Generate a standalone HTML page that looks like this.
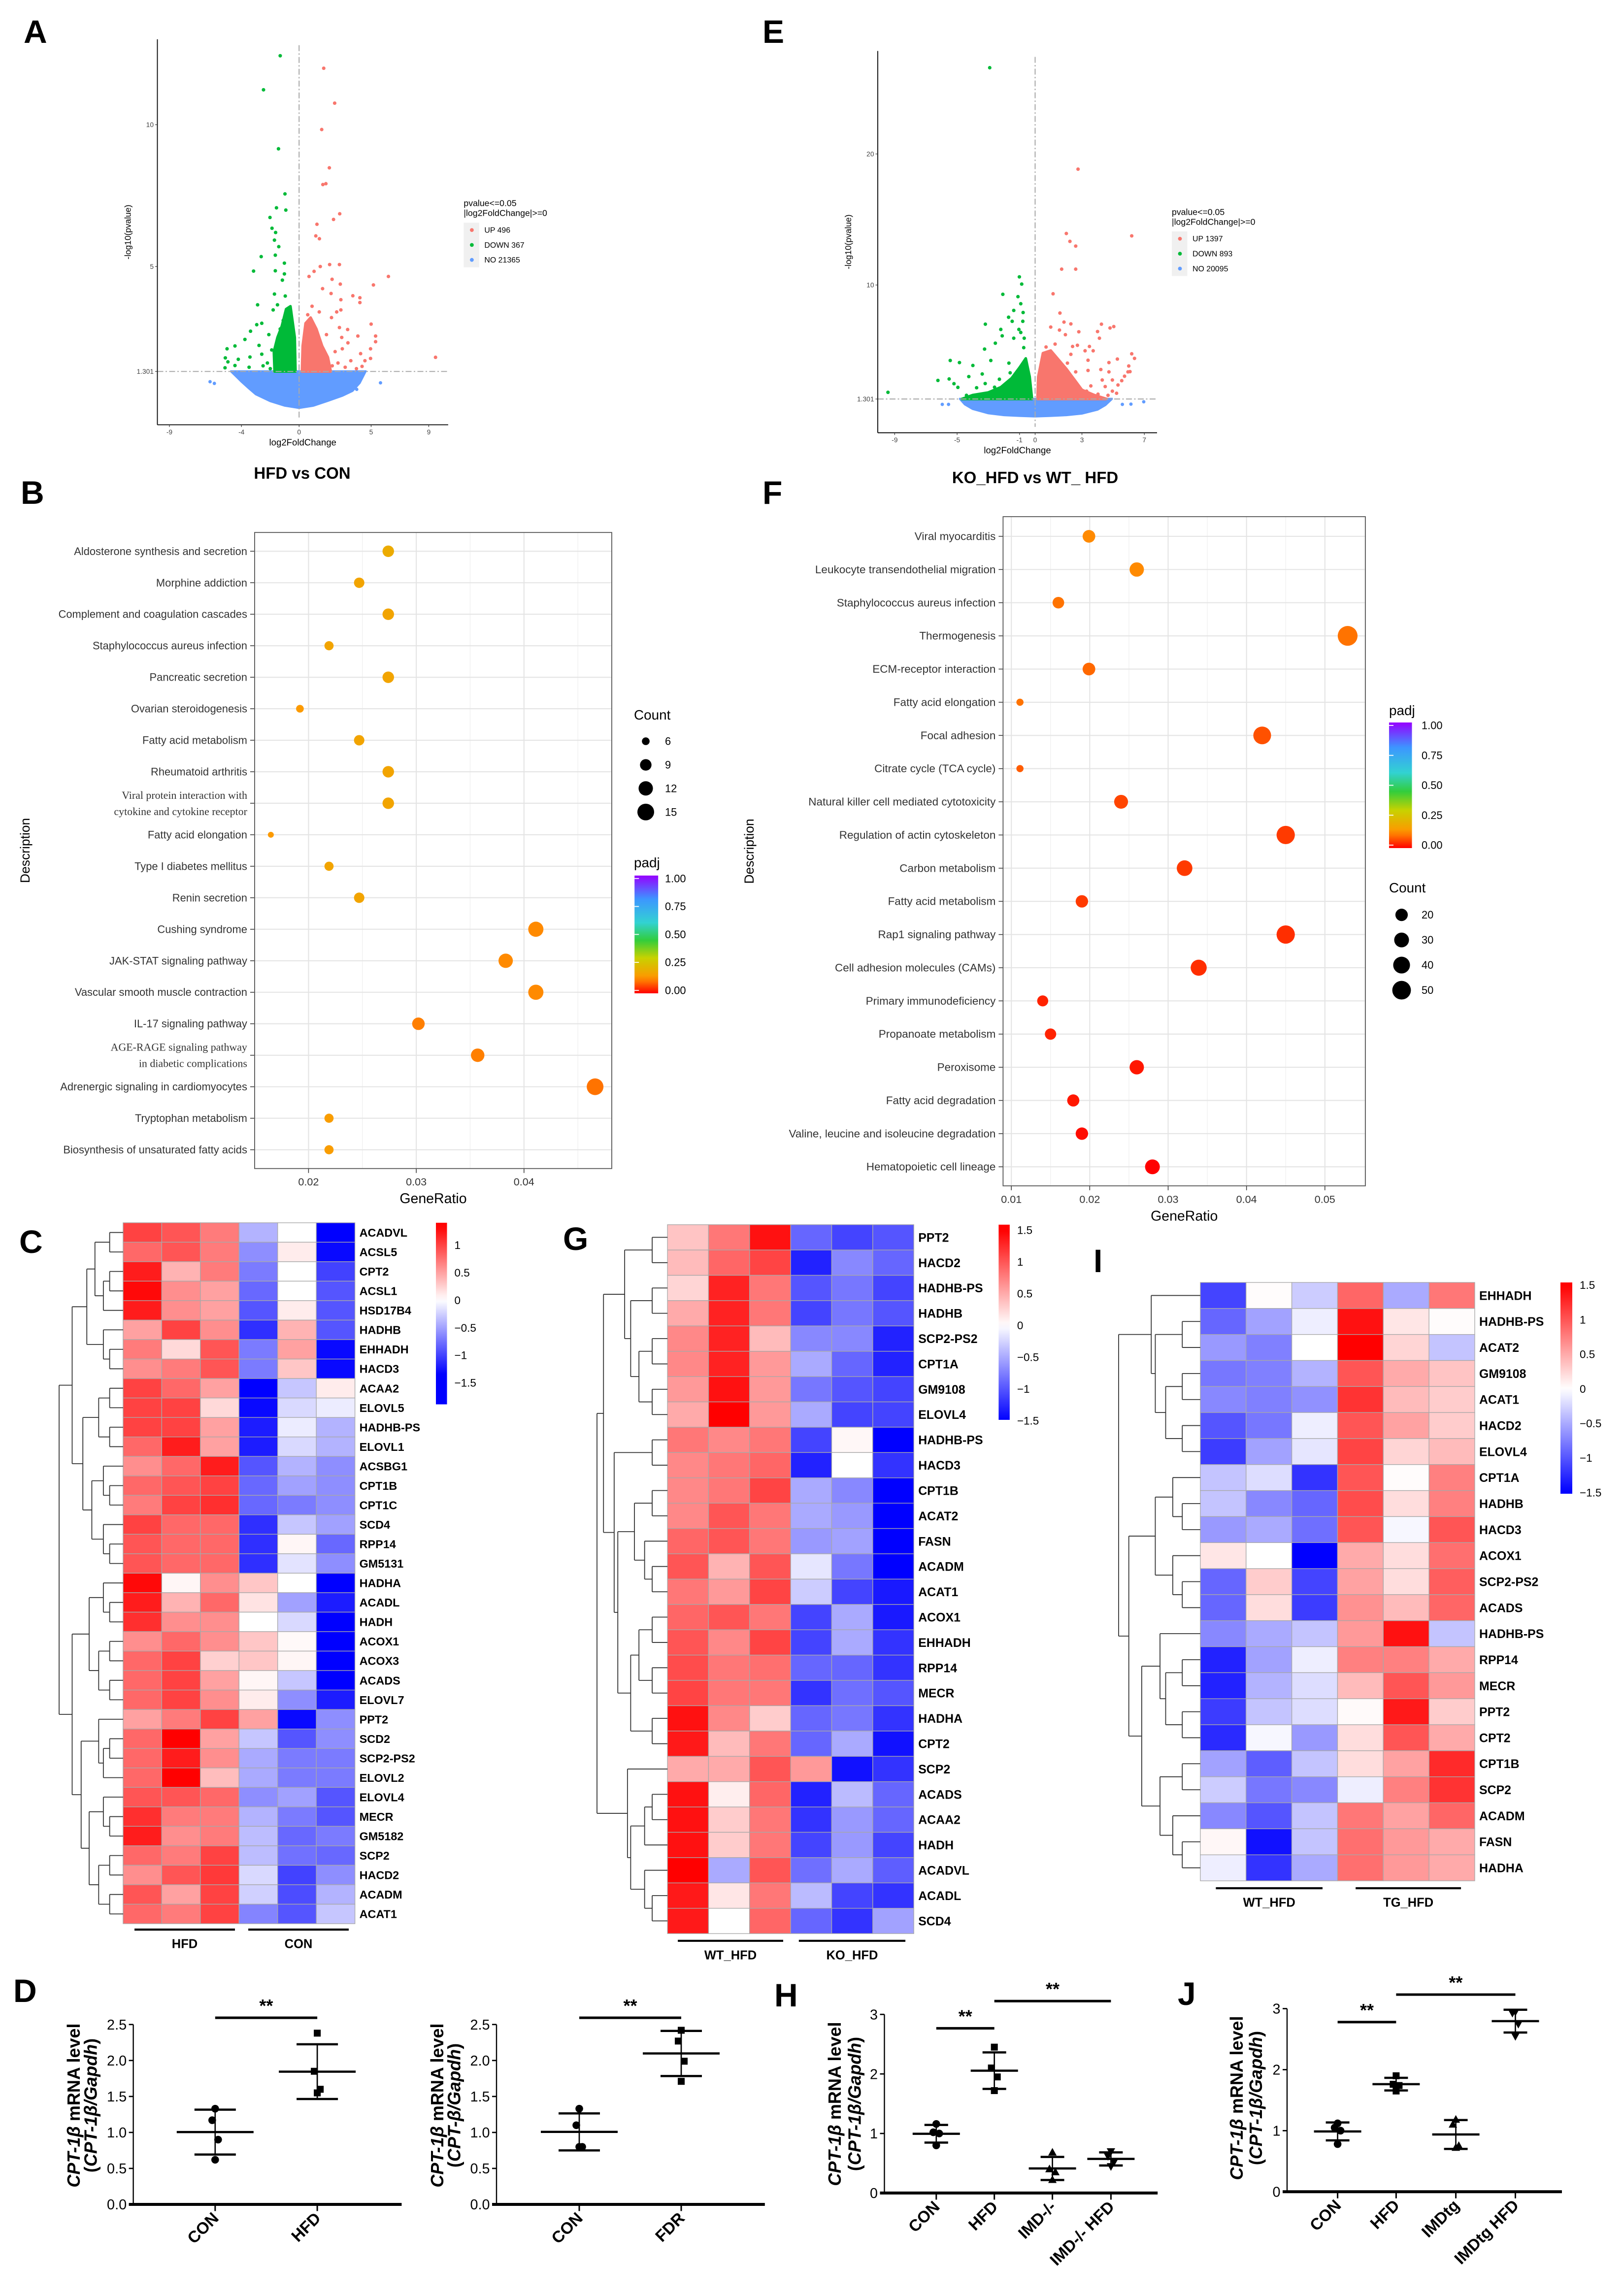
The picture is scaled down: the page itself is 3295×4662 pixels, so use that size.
<!DOCTYPE html>
<html><head><meta charset="utf-8">
<style>
html,body{margin:0;padding:0;background:#fff}
svg{display:block}
text{font-family:"Liberation Sans",sans-serif}
.serif{font-family:"Liberation Serif",serif}
.pl{font-size:22px;font-weight:bold}
</style></head>
<body>
<svg id="fig" xmlns="http://www.w3.org/2000/svg" width="3295" height="4662" viewBox="0 0 1098.33 1554">
<rect x="0" y="0" width="1098.33" height="1554" fill="#fff"/>
<text class="pl" x="16" y="29">A</text>
<text class="pl" x="516" y="29">E</text>
<text class="pl" x="14" y="341">B</text>
<text class="pl" x="516" y="341">F</text>
<text class="pl" x="13" y="848">C</text>
<text class="pl" x="381" y="846">G</text>
<text class="pl" x="740" y="861">I</text>
<text class="pl" x="9" y="1355">D</text>
<text class="pl" x="524" y="1358">H</text>
<text class="pl" x="797" y="1357">J</text>
<text x="204.5" y="324" text-anchor="middle" font-size="11" font-weight="bold">HFD vs CON</text>
<text x="700.5" y="327" text-anchor="middle" font-size="11" font-weight="bold">KO_HFD vs WT_ HFD</text>
</svg>
<script>
// ===================== DATA =====================
const volA_up=[[1.71,11.99],[2.47,10.76],[1.57,9.83],[2.1,8.48],[1.65,7.89],[1.86,7.92],[2.82,6.86],[2.39,6.66],[1.24,6.49],[1.16,6.08],[1.41,5.98],[6.2,4.65],[5.16,4.35],[2.12,5.07],[2.8,5.07],[1.47,5.0],[1.04,4.83],[0.69,4.65],[2.29,4.55],[2.86,4.38],[1.63,4.22],[2.22,4.05],[3.73,3.97],[4.22,3.9],[4.22,3.73],[2.9,3.83],[2.9,3.47],[2.61,3.4],[2.25,3.2],[5.0,2.97],[3.37,2.78],[2.8,2.85],[4.08,2.55],[5.31,2.55],[2.96,2.5],[3.39,2.31],[5.31,2.35],[4.96,2.1],[4.27,1.93],[4.57,1.68],[4.37,1.48],[4.96,1.76],[9.47,1.8],[3.59,1.68],[3.2,1.45],[3.98,1.4],[2.5,2.0],[2.7,1.6],[3.0,2.1],[2.3,1.5],[1.9,2.6],[1.4,3.4],[0.9,3.6],[0.6,3.3]];
const volA_down=[[-1.31,12.43],[-2.47,11.23],[-1.43,9.15],[-0.98,7.56],[-1.57,7.07],[-0.92,6.99],[-2.02,6.73],[-1.88,6.35],[-1.63,6.2],[-1.71,5.93],[-1.41,5.7],[-2.63,5.35],[-1.65,5.4],[-1.02,5.12],[-3.16,4.84],[-1.65,4.85],[-1.02,4.74],[-1.16,4.52],[-1.71,4.03],[-0.96,3.96],[-2.88,3.65],[-1.5,3.65],[-1.8,3.47],[-0.82,3.45],[-2.59,3.0],[-2.94,2.95],[-1.31,2.8],[-3.37,2.72],[-3.76,2.43],[-2.1,2.6],[-2.78,2.22],[-4.45,2.2],[-5.0,2.1],[-5.12,1.78],[-4.94,1.64],[-5.14,1.43],[-4.22,1.73],[-3.41,1.81],[-2.59,1.91],[-1.9,2.06],[-4.45,1.51],[-3.47,1.45],[-2.2,1.6],[-2.0,1.4],[-2.5,1.5],[-1.1,3.1],[-0.7,3.3]];
const volA_no=[[-6.18,0.94],[-5.88,0.88],[5.65,0.9],[4.0,0.67]];
const volA_blueEdge=[[-4.7,1.3],[-4.3,1.1],[-4,0.95],[-3.5,0.72],[-3,0.5],[-2,0.26],[-1,0.1],[0,0.02],[1,0.1],[2,0.27],[3,0.45],[3.7,0.62],[4.2,0.9],[4.6,1.3]];
const volA_downDense=[[-1.7,1.3],[-1.75,2.0],[-1.5,2.5],[-1.2,2.9],[-0.9,3.5],[-0.6,3.6],[-0.3,2.5],[-0.25,1.3]];
const volA_upDense=[[0.2,1.3],[0.25,2.2],[0.45,3.0],[0.8,3.2],[1.2,2.8],[1.6,2.2],[2.0,1.8],[2.2,1.3]];
const volE_up=[[2.75,18.84],[2.0,13.93],[6.19,13.75],[2.23,13.33],[2.6,12.97],[1.7,11.21],[2.6,11.21],[1.15,9.33],[1.59,7.86],[1.85,7.17],[2.29,7.03],[4.25,7.01],[4.8,6.72],[5.04,6.83],[1.0,6.79],[1.56,6.56],[2.8,6.43],[4.0,6.45],[1.94,6.21],[4.12,5.94],[0.7,5.27],[1.28,5.49],[2.4,5.31],[2.71,5.4],[3.48,5.31],[3.2,4.98],[3.72,4.98],[2.29,4.71],[6.19,4.75],[6.37,4.4],[3.39,4.26],[5.27,4.35],[4.73,4.08],[2.07,4.04],[6.0,3.82],[6.08,3.39],[5.95,3.37],[2.6,3.37],[3.39,3.48],[4.21,3.55],[4.73,3.37],[5.73,3.04],[4.3,2.75],[4.95,2.75],[5.55,2.7],[3.57,2.3],[4.49,2.25],[5.31,2.37],[3.02,1.96],[4.95,1.9],[5.22,1.74],[4.03,1.67],[4.67,1.58],[3.5,1.5],[3.3,1.9]];
const volE_down=[[-2.91,26.58],[-1.01,10.62],[-0.86,10.07],[-2.07,9.29],[-1.1,9.11],[-0.92,8.57],[-1.37,8.06],[-0.77,7.9],[-1.7,7.54],[-1.47,7.23],[-0.79,7.23],[-3.19,7.01],[-2.2,6.61],[-1.04,6.61],[-0.92,6.38],[-2.11,6.12],[-1.37,5.94],[-0.7,5.94],[-2.55,5.56],[-3.24,5.11],[-0.73,5.22],[-5.44,4.24],[-4.85,4.08],[-2.84,4.24],[-3.99,3.86],[-1.68,4.04],[-6.23,2.72],[-5.51,2.83],[-4.25,3.01],[-3.39,3.21],[-5.2,2.47],[-4.95,2.19],[-3.75,2.16],[-9.43,1.81],[-3.2,2.48],[-2.29,2.81],[-4.4,1.58],[-3.39,1.58],[-2.6,2.2],[-1.6,3.3]];
const volE_no=[[-5.95,0.89],[-5.55,0.89],[5.59,0.89],[6.14,0.91],[6.96,1.09],[4.67,1.14]];
const volE_blueEdge=[[-4.8,1.3],[-4.5,0.9],[-4,0.55],[-3,0.22],[-2,0.08],[-1,0.02],[0,-0.02],[1,0.02],[2,0.08],[3,0.2],[4,0.5],[4.5,0.85],[4.9,1.3]];
const volE_downDense=[[-4.7,1.3],[-4.0,1.6],[-3.0,1.8],[-2.2,2.2],[-2.0,2.4],[-1.5,2.9],[-1.0,3.7],[-0.6,4.4],[-0.35,3.0],[-0.2,1.3]];
const volE_upDense=[[0.15,1.3],[0.2,3.0],[0.5,4.8],[1.0,5.0],[1.5,4.3],[2.0,3.6],[2.5,2.8],[3.0,2.0],[3.8,1.6],[4.6,1.3]];

const dotB_terms=["Aldosterone synthesis and secretion","Morphine addiction","Complement and coagulation cascades","Staphylococcus aureus infection","Pancreatic secretion","Ovarian steroidogenesis","Fatty acid metabolism","Rheumatoid arthritis","Viral protein interaction with|cytokine and cytokine receptor","Fatty acid elongation","Type I diabetes mellitus","Renin secretion","Cushing syndrome","JAK-STAT signaling pathway","Vascular smooth muscle contraction","IL-17 signaling pathway","AGE-RAGE signaling pathway|in diabetic complications","Adrenergic signaling in cardiomyocytes","Tryptophan metabolism","Biosynthesis of unsaturated fatty acids"];
const dotB_ratio=[0.0274,0.0247,0.0274,0.0219,0.0274,0.0192,0.0247,0.0274,0.0274,0.0165,0.0219,0.0247,0.0411,0.0383,0.0411,0.0302,0.0357,0.0466,0.0219,0.0219];
const dotB_count=[9,8,9,7,9,6,8,9,9,5,7,8,13,12,13,10,11,15,7,7];
const dotB_padj=[0.19,0.17,0.17,0.17,0.17,0.14,0.17,0.17,0.17,0.14,0.17,0.17,0.12,0.12,0.12,0.11,0.11,0.1,0.15,0.15];
const dotB_ticks=[0.02,0.03,0.04];
const dotF_terms=["Viral myocarditis","Leukocyte transendothelial migration","Staphylococcus aureus infection","Thermogenesis","ECM-receptor interaction","Fatty acid elongation","Focal adhesion","Citrate cycle (TCA cycle)","Natural killer cell mediated cytotoxicity","Regulation of actin cytoskeleton","Carbon metabolism","Fatty acid metabolism","Rap1 signaling pathway","Cell adhesion molecules (CAMs)","Primary immunodeficiency","Propanoate metabolism","Peroxisome","Fatty acid degradation","Valine, leucine and isoleucine degradation","Hematopoietic cell lineage"];
const dotF_ratio=[0.0199,0.026,0.016,0.0529,0.0199,0.0111,0.042,0.0111,0.024,0.045,0.0321,0.019,0.045,0.0339,0.014,0.015,0.026,0.0179,0.019,0.028];
const dotF_count=[21,28,17,57,21,4,45,4,26,48,34,20,48,36,15,16,28,19,20,30];
const dotF_padj=[0.12,0.12,0.1,0.1,0.09,0.1,0.07,0.08,0.06,0.05,0.05,0.05,0.04,0.04,0.03,0.03,0.02,0.02,0.01,0.0];
const dotF_ticks=[0.01,0.02,0.03,0.04,0.05];

const heatC_genes=["ACADVL","ACSL5","CPT2","ACSL1","HSD17B4","HADHB","EHHADH","HACD3","ACAA2","ELOVL5","HADHB-PS","ELOVL1","ACSBG1","CPT1B","CPT1C","SCD4","RPP14","GM5131","HADHA","ACADL","HADH","ACOX1","ACOX3","ACADS","ELOVL7","PPT2","SCD2","SCP2-PS2","ELOVL2","ELOVL4","MECR","GM5182","SCP2","HACD2","ACADM","ACAT1"];
const heatC_values=[[1.0,0.9,0.7,-0.4,0.0,-1.4],[0.8,0.9,0.7,-0.6,0.1,-1.3],[1.2,0.4,0.7,-0.7,0.0,-1.0],[1.3,0.6,0.5,-0.8,0.0,-0.9],[1.2,0.6,0.5,-0.9,0.1,-0.9],[0.5,1.0,0.6,-1.1,0.4,-0.9],[0.7,0.2,0.9,-0.7,0.5,-1.3],[0.6,0.7,0.9,-0.7,0.3,-1.3],[1.0,0.8,0.5,-1.5,-0.3,0.1],[1.0,1.0,0.2,-1.3,-0.2,-0.1],[1.0,1.0,0.5,-1.2,-0.1,-0.4],[0.8,1.2,0.5,-1.2,-0.2,-0.4],[0.6,0.8,1.2,-0.9,-0.4,-0.6],[0.8,0.9,1.0,-0.8,-0.5,-0.6],[0.7,1.0,1.1,-0.8,-0.7,-0.6],[1.0,0.8,0.8,-1.1,-0.3,-0.5],[0.9,0.8,0.8,-1.1,0.05,-0.8],[0.9,0.8,0.8,-1.1,-0.15,-0.6],[1.3,0.05,0.6,0.3,0.0,-1.4],[1.2,0.4,0.8,0.15,-0.5,-1.2],[1.1,0.6,0.6,0.0,-0.2,-1.4],[0.6,0.8,0.6,0.3,0.03,-1.6],[0.8,1.0,0.25,0.3,0.05,-1.5],[0.8,1.0,0.5,0.05,-0.3,-1.4],[0.8,1.0,0.6,0.1,-0.6,-1.2],[0.5,0.7,1.0,0.5,-1.3,-0.6],[0.8,1.35,0.5,-0.3,-0.9,-0.6],[0.8,1.2,0.6,-0.45,-0.7,-0.7],[0.8,1.35,0.35,-0.45,-0.7,-0.7],[0.9,0.9,0.8,-0.6,-0.5,-0.9],[1.1,0.7,0.7,-0.4,-0.7,-0.9],[1.2,0.6,0.7,-0.35,-0.8,-0.7],[0.8,0.7,1.0,-0.35,-0.75,-0.8],[0.6,0.9,1.05,-0.2,-1.0,-0.6],[0.9,0.5,1.0,-0.25,-0.95,-0.4],[0.8,0.7,1.0,-0.65,-0.9,-0.3]];
const heatC_tree=[[[[[0,1],[[2,3],4]],[5,[6,7]]],[[[8,9],[10,11]],[[12,[13,14]],[15,[16,17]]]]],[[[18,[19,20]],[[21,22],[23,24]]],[[25,[[26,27],28]],[[29,[30,31]],[[32,33],[34,35]]]]]];
const heatC_ticks=[1,0.5,0,-0.5,-1,-1.5];
const heatC_tickLabels=["1","0.5","0","\u22120.5","\u22121","\u22121.5"];
const heatG_genes=["PPT2","HACD2","HADHB-PS","HADHB","SCP2-PS2","CPT1A","GM9108","ELOVL4","HADHB-PS","HACD3","CPT1B","ACAT2","FASN","ACADM","ACAT1","ACOX1","EHHADH","RPP14","MECR","HADHA","CPT2","SCP2","ACADS","ACAA2","HADH","ACADVL","ACADL","SCD4"];
const heatG_values=[[0.35,0.8,1.4,-0.9,-1.1,-1.0],[0.4,0.9,1.1,-1.3,-0.7,-0.9],[0.25,1.3,0.8,-1.0,-0.8,-1.1],[0.5,1.3,0.8,-1.1,-0.8,-1.0],[0.7,1.3,0.4,-0.7,-0.7,-1.3],[0.7,1.3,0.6,-0.5,-0.9,-1.3],[0.6,1.4,0.6,-0.8,-1.0,-1.1],[0.5,1.5,0.6,-0.5,-1.1,-1.1],[0.8,0.7,0.8,-1.1,0.05,-1.5],[0.7,0.8,0.9,-1.3,0.0,-1.2],[0.7,0.8,1.1,-0.5,-0.7,-1.5],[0.7,1.0,0.8,-0.5,-0.6,-1.6],[0.9,1.0,0.8,-0.6,-0.55,-1.55],[1.0,0.45,1.0,-0.15,-0.8,-1.6],[0.8,0.6,1.1,-0.3,-1.1,-1.35],[0.9,1.0,0.8,-1.1,-0.5,-1.35],[1.0,0.7,1.1,-1.1,-0.5,-1.2],[1.05,0.8,0.85,-0.9,-0.9,-1.2],[1.1,0.8,0.8,-1.2,-0.85,-1.0],[1.4,0.7,0.3,-0.9,-0.8,-1.2],[1.35,0.4,0.8,-0.9,-0.5,-1.4],[0.5,0.5,1.0,0.6,-1.4,-1.2],[1.4,0.1,0.9,-1.3,-0.4,-0.9],[1.4,0.3,0.8,-1.2,-0.6,-0.9],[1.4,0.3,0.8,-1.1,-0.6,-1.1],[1.5,-0.5,1.0,-0.85,-0.5,-0.95],[1.35,0.15,0.8,-0.4,-1.1,-1.2],[1.35,0.0,0.9,-0.9,-1.2,-0.55]];
const heatG_tree=[[[[0,1],[[2,3],[[4,5],[6,7]]]],[[8,9],[[[10,11],[12,[13,14]]],[[[15,16],[17,18]],[19,20]]]]],[21,[[[22,23],24],[25,[26,27]]]]];
const heatG_ticks=[1.5,1,0.5,0,-0.5,-1,-1.5];
const heatG_tickLabels=["1.5","1","0.5","0","\u22120.5","\u22121","\u22121.5"];
const heatI_genes=["EHHADH","HADHB-PS","ACAT2","GM9108","ACAT1","HACD2","ELOVL4","CPT1A","HADHB","HACD3","ACOX1","SCP2-PS2","ACADS","HADHB-PS","RPP14","MECR","PPT2","CPT2","CPT1B","SCP2","ACADM","FASN","HADHA"];
const heatI_values=[[-1.1,0.02,-0.3,0.9,-0.5,0.8],[-0.9,-0.55,-0.1,1.4,0.15,0.02],[-0.6,-0.75,0.0,1.5,0.25,-0.35],[-0.8,-0.75,-0.45,1.0,0.5,0.35],[-0.7,-0.75,-0.65,1.2,0.4,0.3],[-1.0,-0.8,-0.1,1.0,0.55,0.3],[-1.15,-0.55,-0.15,1.1,0.25,0.4],[-0.35,-0.2,-1.2,1.0,0.02,0.75],[-0.35,-0.7,-0.9,1.05,0.2,0.75],[-0.6,-0.5,-0.85,1.0,-0.05,1.0],[0.15,0.0,-1.6,0.5,0.2,0.85],[-0.9,0.3,-1.1,0.55,0.2,0.95],[-0.9,0.2,-1.15,0.65,0.4,0.9],[-0.7,-0.5,-0.35,0.6,1.4,-0.35],[-1.3,-0.55,-0.1,0.75,0.75,0.5],[-1.3,-0.45,-0.2,0.4,1.0,0.6],[-1.15,-0.35,-0.2,0.03,1.35,0.3],[-1.25,-0.05,-0.6,0.2,1.0,0.5],[-0.55,-0.95,-0.35,0.2,0.55,1.25],[-0.3,-0.8,-0.7,-0.1,0.75,1.2],[-0.7,-1.0,-0.35,0.8,0.55,0.9],[0.05,-1.4,-0.35,0.85,0.6,0.5],[-0.1,-1.2,-0.5,0.85,0.6,0.5]];
const heatI_tree=[[0,[[1,2],[[3,4],[5,6]]]],[[[7,[8,9]],[10,[11,12]]],[[13,[[14,15],[16,17]]],[[18,19],[20,[21,22]]]]]];

const d1_groups=["CON","HFD"];
const d1_con=[1.33,1.17,0.9,0.62];
const d1_hfd=[2.38,1.85,1.6,1.55];
const d2_groups=["CON","FDR"];
const d2_con=[1.33,1.1,0.8,0.8];
const d2_fdr=[2.42,2.27,1.99,1.71];
const h_groups=["CON","HFD","IMD-/-","IMD-/- HFD"];
const h_con=[1.16,1.02,1.0,0.8];
const h_hfd=[2.45,2.1,1.95,1.72];
const h_imd=[0.68,0.4,0.35,0.22];
const h_imdhfd=[0.7,0.62,0.52,0.45];
const j_groups=["CON","HFD","IMDtg","IMDtg HFD"];
const j_con=[1.12,1.05,1.0,0.78];
const j_hfd=[1.9,1.76,1.74,1.65];
const j_imd=[1.18,1.1,0.75,0.72];
const j_imdhfd=[2.95,2.93,2.75,2.55];
const d_ticks=[0,0.5,1.0,1.5,2.0,2.5];
const d_tickLabels=["0.0","0.5","1.0","1.5","2.0","2.5"];
const hj_ticks=[0,1,2,3];
const hj_tickLabels=["0","1","2","3"];

// ===================== HELPERS =====================
const NS='http://www.w3.org/2000/svg';
const svg=document.getElementById('fig');
function E(tag,a,p){const el=document.createElementNS(NS,tag);for(const k in a)el.setAttribute(k,a[k]);(p||svg).appendChild(el);return el;}
function T(x,y,s,a,p){const el=E('text',Object.assign({x:x,y:y},a||{}),p);el.textContent=s;return el;}
function G(name){const g=E('g',{});return g;}

// ===================== VOLCANO =====================
function volcano(c){
  const g=G(c.name);
  const sx=v=>c.x0+v*c.kx, sy=v=>c.y0-v*c.ky;
  let d='M'+sx(c.edge[0][0])+','+sy(1.301);
  c.edge.forEach(p=>{d+=' L'+sx(p[0])+','+sy(Math.min(p[1],1.301));});
  d+=' L'+sx(c.edge[c.edge.length-1][0])+','+sy(1.301)+' Z';
  let el=E('path',{d:d,fill:'#619CFF',stroke:'#619CFF','stroke-width':1.6},g);
  
  
  [[c.downDense,'#00BA38','down-dense-cluster'],[c.upDense,'#F8766D','up-dense-cluster']].forEach(q=>{
    const pts=q[0].map(p=>sx(p[0])+','+sy(p[1])).join(' ');
    const pe=E('polygon',{points:pts,fill:q[1],stroke:q[1],'stroke-width':1.8,'stroke-linejoin':'round'},g);
    
    
  });
  c.no.forEach(p=>{const e=E('circle',{cx:sx(p[0]),cy:sy(p[1]),r:1.15,fill:'#619CFF'},g);
    
    });
  c.down.forEach(p=>{const e=E('circle',{cx:sx(p[0]),cy:sy(p[1]),r:1.2,fill:'#00BA38'},g);
    
    });
  c.up.forEach(p=>{const e=E('circle',{cx:sx(p[0]),cy:sy(p[1]),r:1.2,fill:'#F8766D'},g);
    
    });
  el=E('line',{x1:c.L,x2:c.R,y1:sy(1.301),y2:sy(1.301),stroke:'#aaa','stroke-width':0.7,'stroke-dasharray':'4,1.5,1,1.5'},g);
  
  
  el=E('line',{x1:sx(0),x2:sx(0),y1:c.T+4,y2:c.B-4,stroke:'#aaa','stroke-width':0.7,'stroke-dasharray':'4,1.5,1,1.5'},g);
  
  
  el=E('line',{x1:c.L,x2:c.L,y1:c.T,y2:c.B,stroke:'#000','stroke-width':0.6},g);
  
  
  el=E('line',{x1:c.L,x2:c.R,y1:c.B,y2:c.B,stroke:'#000','stroke-width':0.6},g);
  
  
  c.xt.forEach(v=>{
    const tk=E('line',{x1:sx(v),x2:sx(v),y1:c.B,y2:c.B+1.5,stroke:'#333','stroke-width':0.4},g);
    
    
    const tl=T(sx(v),c.B+6.5,String(v),{'font-size':4.6,'text-anchor':'middle',fill:'#444'},g);
    
    
  });
  c.yt.forEach(v=>{
    const tk=E('line',{x1:c.L-1.5,x2:c.L,y1:sy(v),y2:sy(v),stroke:'#333','stroke-width':0.4},g);
    
    
    const tl=T(c.L-2.5,sy(v)+1.6,String(v),{'font-size':4.6,'text-anchor':'end',fill:'#444'},g);
    
    
  });
  el=T((c.L+c.R)/2,c.B+14,'log2FoldChange',{'font-size':6.2,'text-anchor':'middle'},g);
  
  
  el=T(0,0,'-log10(pvalue)',{'font-size':5.8,'text-anchor':'middle',transform:`translate(${c.L-18},${(c.T+c.B)/2}) rotate(-90)`},g);
  
  
  const lg=c.lg;
  el=T(lg.x,lg.y,'pvalue<=0.05',{'font-size':5.9},g);
  
  
  el=T(lg.x,lg.y+6.6,'|log2FoldChange|>=0',{'font-size':5.9},g);
  
  
  el=E('rect',{x:lg.x,y:lg.dy[0]-5,width:10.5,height:lg.dy[2]-lg.dy[0]+10,fill:'#f0f0f0'},g);
  
  
  lg.items.forEach((it,i)=>{
    const dot=E('circle',{cx:lg.x+5.5,cy:lg.dy[i],r:1.3,fill:it[1]},g);
    
    
    const tx=T(lg.x+14,lg.dy[i]+1.8,it[0],{'font-size':5.3},g);
    
    
  });
}
volcano({name:'volcano-a',x0:202.4,kx:9.75,y0:276.4,ky:19.2,L:106.5,R:303.3,T:26.6,B:287.5,
  up:volA_up,down:volA_down,no:volA_no,edge:volA_blueEdge,downDense:volA_downDense,upDense:volA_upDense,
  xt:[-9,-4,0,5,9],yt:[1.301,5,10],
  lg:{x:313.8,y:139.5,dy:[155.7,165.8,175.9],items:[['UP 496','#F8766D'],['DOWN 367','#00BA38'],['NO 21365','#619CFF']]}});
volcano({name:'volcano-e',x0:700.5,kx:10.56,y0:281.6,ky:8.87,L:594,R:783,T:34.5,B:292.9,
  up:volE_up,down:volE_down,no:volE_no,edge:volE_blueEdge,downDense:volE_downDense,upDense:volE_upDense,
  xt:[-9,-5,-1,0,3,7],yt:[1.301,10,20],
  lg:{x:793,y:145.5,dy:[161.6,171.7,181.8],items:[['UP 1397','#F8766D'],['DOWN 893','#00BA38'],['NO 20095','#619CFF']]}});

// ===================== DOT PLOTS =====================
const padjStops=[[0,[255,0,0]],[0.13,[255,150,0]],[0.3,[200,210,0]],[0.45,[50,205,60]],[0.6,[50,210,210]],[0.8,[60,150,255]],[1,[150,0,255]]];
function padjColor(v){
  for(let i=1;i<padjStops.length;i++){
    if(v<=padjStops[i][0]){const a=padjStops[i-1],b=padjStops[i],t=(v-a[0])/(b[0]-a[0]);
      const c=a[1].map((x,k)=>Math.round(x+(b[1][k]-x)*t));return `rgb(${c[0]},${c[1]},${c[2]})`;}
  }
  return 'rgb(150,0,255)';
}
function dotplot(c){
  const g=G(c.name);
  const sx=v=>c.tx0+(v-c.tv0)*c.k;
  const sy=i=>c.r0+i*c.rs;
  let el=E('rect',{x:c.L,y:c.T,width:c.R-c.L,height:c.B-c.T,fill:'#fff'},g);
  
  
  for(let i=0;i<c.ticks.length+1;i++){
    const v=c.ticks[0]+(i-0.5)*(c.ticks[1]-c.ticks[0]);
    const x=sx(v); if(x<=c.L||x>=c.R) continue;
    const m=E('line',{x1:x,x2:x,y1:c.T,y2:c.B,stroke:'#f2f2f2','stroke-width':0.5},g);
    
    
  }
  c.ticks.forEach(v=>{
    const gl=E('line',{x1:sx(v),x2:sx(v),y1:c.T,y2:c.B,stroke:'#e4e4e4','stroke-width':0.7},g);
    
    
    const tk=E('line',{x1:sx(v),x2:sx(v),y1:c.B,y2:c.B+3,stroke:'#333','stroke-width':0.5},g);
    
    
    const tl=T(sx(v),c.B+11.5,v.toFixed(2),{'font-size':7.2,'text-anchor':'middle',fill:'#333'},g);
    
    
  });
  c.terms.forEach((t,i)=>{
    const gl=E('line',{x1:c.L,x2:c.R,y1:sy(i),y2:sy(i),stroke:'#e4e4e4','stroke-width':0.7},g);
    
    
    const tk=E('line',{x1:c.L-3,x2:c.L,y1:sy(i),y2:sy(i),stroke:'#333','stroke-width':0.5},g);
    
    
    const parts=t.split('|');
    parts.forEach((p,j)=>{
      const yy=sy(i)+2.5+(j-(parts.length-1)/2)*11;
      const tl=T(c.L-5,yy,p,{'font-size':c.fs,'text-anchor':'end',fill:'#333',class:(parts.length>1&&c.serif)?'serif':''},g);
      
      
    });
  });
  el=E('rect',{x:c.L,y:c.T,width:c.R-c.L,height:c.B-c.T,fill:'none',stroke:'#555','stroke-width':0.6},g);
  
  
  c.terms.forEach((t,i)=>{
    const dot=E('circle',{cx:sx(c.ratio[i]),cy:sy(i),r:c.rad(c.count[i]),fill:padjColor(c.padj[i])},g);
    
    
  });
  el=T((c.L+c.R)/2,c.B+23.5,'GeneRatio',{'font-size':9.5,'text-anchor':'middle'},g);
  
  
  el=T(0,0,'Description',{'font-size':8.8,'text-anchor':'middle',transform:`translate(${c.descX},${(c.T+c.B)/2}) rotate(-90)`},g);
  
  
  const s=c.size;
  el=T(s.x,s.y,'Count',{'font-size':9.3},g);
  
  
  s.vals.forEach((v,i)=>{
    const dot=E('circle',{cx:s.dx,cy:s.dy[i],r:c.rad(v),fill:'#000'},g);
    
    
    const tl=T(s.tx,s.dy[i]+2.5,String(v),{'font-size':7.3},g);
    
    
  });
  const p=c.pad;
  el=T(p.x,p.y,'padj',{'font-size':9.3},g);
  
  
  const gid=c.name+'-grad';
  const defs=E('defs',{},g);
  const lgd=E('linearGradient',{id:gid,x1:0,y1:0,x2:0,y2:1},defs);
  for(let i=0;i<=20;i++){E('stop',{offset:(i/20),'stop-color':padjColor(1-i/20)},lgd);}
  el=E('rect',{x:p.bx,y:p.by0,width:p.bw,height:p.by1-p.by0,fill:`url(#${gid})`},g);
  
  
  ['1.00','0.75','0.50','0.25','0.00'].forEach((l,i)=>{
    const yy=p.by0+2+(p.by1-p.by0-4)*i/4;
    const tk=E('line',{x1:p.bx,x2:p.bx+3,y1:yy,y2:yy,stroke:'#fff','stroke-width':0.6},g);
    
    
    const tl=T(p.tx,yy+2.5,l,{'font-size':7.3},g);
    
    
  });
}
dotplot({name:'dotplot-b',L:172.3,R:414,T:360.4,B:790.9,tx0:208.8,tv0:0.02,k:7290,r0:373.1,rs:21.32,fs:7.3,serif:true,
  terms:dotB_terms,ratio:dotB_ratio,count:dotB_count,padj:dotB_padj,ticks:dotB_ticks,descX:20,
  rad:v=>Math.sqrt(Math.max(2.3,-10+2.8*v)),
  size:{x:429,y:487,dx:437,dy:[501.7,517.7,533.6,549.6],tx:450,vals:[6,9,12,15]},
  pad:{x:429,y:587,bx:429.4,bw:16,by0:592.6,by1:672.3,tx:450}});
dotplot({name:'dotplot-f',L:678.8,R:924,T:349.7,B:802.6,tx0:684.4,tv0:0.01,k:5305,r0:363,rs:22.46,fs:7.5,serif:false,
  terms:dotF_terms,ratio:dotF_ratio,count:dotF_count,padj:dotF_padj,ticks:dotF_ticks,descX:510,
  rad:v=>Math.sqrt(2.9+0.737*v),
  size:{x:940,y:604,dx:948.5,dy:[619.2,636.2,653.2,670.2],tx:962,vals:[20,30,40,50]},
  pad:{x:940,y:484,bx:940,bw:15.5,by0:489,by1:574,tx:962}});

// ===================== HEATMAPS =====================
function hcol(v,m){const t=Math.max(-1,Math.min(1,v/m));
  if(t>=0){const q=Math.round(255*(1-t));return `rgb(255,${q},${q})`;}
  const q=Math.round(255*(1+t));return `rgb(${q},${q},255)`;}
function heatmap(c){
  const g=G(c.name);
  const cw=(c.x1-c.x0)/6, rh=(c.y1-c.y0)/c.genes.length;
  c.values.forEach((row,i)=>{
    row.forEach((v,j)=>{
      const r=E('rect',{x:c.x0+j*cw,y:c.y0+i*rh,width:cw,height:rh,fill:hcol(v,c.m),stroke:'#a8a8a8','stroke-width':0.45},g);
      
      
    });
    const tl=T(c.x1+3,c.y0+(i+0.5)*rh+c.fs*0.36,c.genes[i],{'font-size':c.fs,'font-weight':'bold'},g);
    
    
  });
  const N=c.genes.length, W=c.x0-c.dx;
  function rec(node){
    if(typeof node==='number') return {y:c.y0+(node+0.5)*rh,x:c.x0,n:1};
    const a=rec(node[0]), b=rec(node[1]); const n=a.n+b.n;
    const x=c.x0-3-(W-3)*Math.pow(Math.log(n)/Math.log(N),1.15);
    [a,b].forEach(ch=>{const l=E('line',{x1:x,x2:ch.x,y1:ch.y,y2:ch.y,stroke:'#333','stroke-width':0.6},g);
      
      });
    const v=E('line',{x1:x,x2:x,y1:a.y,y2:b.y,stroke:'#333','stroke-width':0.6},g);
    
    
    return {y:(a.y+b.y)/2,x:x,n:n};
  }
  rec(c.tree);
  c.groups.forEach(gr=>{
    const l=E('line',{x1:gr[1],x2:gr[2],y1:c.gy,y2:c.gy,stroke:'#000','stroke-width':1.4},g);
    
    
    const t=T((gr[1]+gr[2])/2,c.gy+12.5,gr[0],{'font-size':8.5,'font-weight':'bold','text-anchor':'middle'},g);
    
    
  });
  const cb=c.cb, gid=c.name+'-grad';
  const defs=E('defs',{},g);
  const lgd=E('linearGradient',{id:gid,x1:0,y1:0,x2:0,y2:1},defs);
  for(let i=0;i<=30;i++){const y=cb.y0+(cb.y1-cb.y0)*i/30; const v=(cb.zy-y)/cb.k;
    E('stop',{offset:i/30,'stop-color':hcol(v,c.m)},lgd);}
  let el=E('rect',{x:cb.x,y:cb.y0,width:cb.w,height:cb.y1-cb.y0,fill:`url(#${gid})`},g);
  
  
  c.ticks.forEach((v,i)=>{
    const t=T(cb.x+cb.w+5,cb.zy-v*cb.k+2.6,c.tickLabels[i],{'font-size':7.5},g);
    
    
  });
}
heatmap({name:'heatmap-c',genes:heatC_genes,values:heatC_values,tree:heatC_tree,m:1.35,x0:83.3,x1:240.2,y0:827.6,y1:1302,dx:40,fs:7.8,
  groups:[['HFD',91,159],['CON',168,236]],gy:1306,
  cb:{x:295,w:7.5,y0:827.6,y1:950.5,zy:880,k:37.3},ticks:heatC_ticks,tickLabels:heatC_tickLabels});
heatmap({name:'heatmap-g',genes:heatG_genes,values:heatG_values,tree:heatG_tree,m:1.5,x0:451.7,x1:618.4,y0:828.9,y1:1308.7,dx:404,fs:8.3,
  groups:[['WT_HFD',458.7,530],['KO_HFD',540.6,612.7]],gy:1313.6,
  cb:{x:675.8,w:7.5,y0:828.9,y1:961,zy:897,k:43},ticks:heatG_ticks,tickLabels:heatG_tickLabels});
heatmap({name:'heatmap-i',genes:heatI_genes,values:heatI_values,tree:heatI_tree,m:1.5,x0:812.3,x1:998,y0:868,y1:1273,dx:757,fs:8.3,
  groups:[['WT_HFD',822.8,895],['TG_HFD',917.4,988.7]],gy:1278,
  cb:{x:1056,w:8,y0:868,y1:1011,zy:940,k:46.8},ticks:heatG_ticks,tickLabels:heatG_tickLabels});

// ===================== qPCR SCATTER =====================
function meanSd(a){const m=a.reduce((s,v)=>s+v,0)/a.length;const sd=Math.sqrt(a.reduce((s,v)=>s+(v-m)*(v-m),0)/(a.length-1));return [m,sd];}
function marker(shape,x,y,p){
  const s=2.6;
  if(shape==='circle') return E('circle',{cx:x,cy:y,r:s,fill:'#000'},p);
  if(shape==='square') return E('rect',{x:x-s*0.9,y:y-s*0.9,width:s*1.8,height:s*1.8,fill:'#000'},p);
  if(shape==='tri') return E('polygon',{points:`${x},${y-s*1.2} ${x-s*1.1},${y+s*0.8} ${x+s*1.1},${y+s*0.8}`,fill:'#000'},p);
  return E('polygon',{points:`${x},${y+s*1.2} ${x-s*1.1},${y-s*0.8} ${x+s*1.1},${y-s*0.8}`,fill:'#000'},p);
}
function qpcr(c){
  const g=G(c.name);
  const sy=v=>c.y0-v*c.k;
  let el=E('line',{x1:c.ax,x2:c.ax,y1:sy(c.ticks[c.ticks.length-1]),y2:c.y0,stroke:'#000','stroke-width':0.8},g);
  
  
  el=E('line',{x1:c.ax-3,x2:c.xend,y1:c.y0,y2:c.y0,stroke:'#000','stroke-width':2},g);
  
  
  c.ticks.forEach((v,i)=>{
    const tk=E('line',{x1:c.ax-3,x2:c.ax,y1:sy(v),y2:sy(v),stroke:'#000','stroke-width':0.9},g);
    
    
    const tl=T(c.ax-4.5,sy(v)+3.4,c.tickLabels[i],{'font-size':9.6,'text-anchor':'end'},g);
    
    
  });
  c.series.forEach((ser,gi)=>{
    const gx=c.gx[gi];
    const tk=E('line',{x1:gx,x2:gx,y1:c.y0,y2:c.y0+4.5,stroke:'#000','stroke-width':1},g);
    
    
    const off=[0,-2,2,0];
    ser.forEach((v,i)=>{
      const mk=marker(c.shapes[gi],gx+off[i],sy(v),g);
      
      
    });
    const ms=meanSd(ser);
    const mline=E('line',{x1:gx-c.mw,x2:gx+c.mw,y1:sy(ms[0]),y2:sy(ms[0]),stroke:'#000','stroke-width':1.5},g);
    
    
    const eb=E('line',{x1:gx,x2:gx,y1:sy(ms[0]+ms[1]),y2:sy(ms[0]-ms[1]),stroke:'#000','stroke-width':0.9},g);
    
    
    [ms[0]+ms[1],ms[0]-ms[1]].forEach(v=>{
      const cap=E('line',{x1:gx-c.cw,x2:gx+c.cw,y1:sy(v),y2:sy(v),stroke:'#000','stroke-width':1.5},g);
      
      
    });
    const ax=gx+3, ay=c.y0+10;
    const lab=T(ax,ay,c.groups[gi],{'font-size':11,'font-weight':'bold','text-anchor':'end',transform:`rotate(-45 ${ax} ${ay})`},g);
    
    
  });
  c.sig.forEach(s=>{
    const l=E('line',{x1:c.gx[s[0]],x2:c.gx[s[1]],y1:s[2],y2:s[2],stroke:'#000','stroke-width':1.7},g);
    
    
    const t=T((c.gx[s[0]]+c.gx[s[1]])/2,s[2]-4,'**',{'font-size':12,'font-weight':'bold','text-anchor':'middle'},g);
    
    
  });
  const t1=E('text',{x:0,y:0,'font-size':12,'font-weight':'bold','text-anchor':'middle',transform:`translate(${c.tx},${c.tcy}) rotate(-90)`},g);
  
  
  const sp1=E('tspan',{'font-style':'italic'},t1); sp1.textContent='CPT-1\u03B2';
  const sp2=E('tspan',{},t1); sp2.textContent=' mRNA level';
  const t2=E('text',{x:0,y:0,'font-size':12,'font-weight':'bold','text-anchor':'middle',transform:`translate(${c.tx+c.tg},${c.tcy}) rotate(-90)`},g);
  
  
  const sp3=E('tspan',{},t2); sp3.textContent='(';
  const sp4=E('tspan',{'font-style':'italic'},t2); sp4.textContent=c.sub;
  const sp5=E('tspan',{},t2); sp5.textContent=')';
}
qpcr({name:'qpcr-d-hfd',ax:90.2,xend:271.8,y0:1492,k:48.7,ticks:d_ticks,tickLabels:d_tickLabels,gx:[145.6,214.7],groups:d1_groups,
  series:[d1_con,d1_hfd],shapes:['circle','square'],sig:[[0,1,1365.7]],tx:54,tg:11.5,tcy:1425,mw:26,cw:14,sub:'CPT-1\u03B2/Gapdh'});
qpcr({name:'qpcr-d-fdr',ax:336,xend:517.6,y0:1492,k:48.7,ticks:d_ticks,tickLabels:d_tickLabels,gx:[392,461],groups:d2_groups,
  series:[d2_con,d2_fdr],shapes:['circle','square'],sig:[[0,1,1365.7]],tx:300,tg:11.5,tcy:1425,mw:26,cw:14,sub:'CPT-\u03B2/Gapdh'});
qpcr({name:'qpcr-h',ax:598.5,xend:783.4,y0:1484.3,k:40.3,ticks:hj_ticks,tickLabels:hj_tickLabels,gx:[633.6,672.9,712.2,751.8],groups:h_groups,
  series:[h_con,h_hfd,h_imd,h_imdhfd],shapes:['circle','square','tri','itri'],sig:[[0,1,1372.8],[1,3,1354.4]],tx:569,tg:13.5,tcy:1424,mw:16,cw:8,sub:'CPT-1\u03B2/Gapdh'});
qpcr({name:'qpcr-j',ax:871,xend:1057,y0:1483.4,k:41.3,ticks:hj_ticks,tickLabels:hj_tickLabels,gx:[905.2,944.8,985.2,1025.5],groups:j_groups,
  series:[j_con,j_hfd,j_imd,j_imdhfd],shapes:['circle','square','tri','itri'],sig:[[0,1,1368.6],[1,3,1350]],tx:841,tg:13,tcy:1420,mw:16,cw:8,sub:'CPT-1\u03B2/Gapdh'});
</script>
</body></html>
